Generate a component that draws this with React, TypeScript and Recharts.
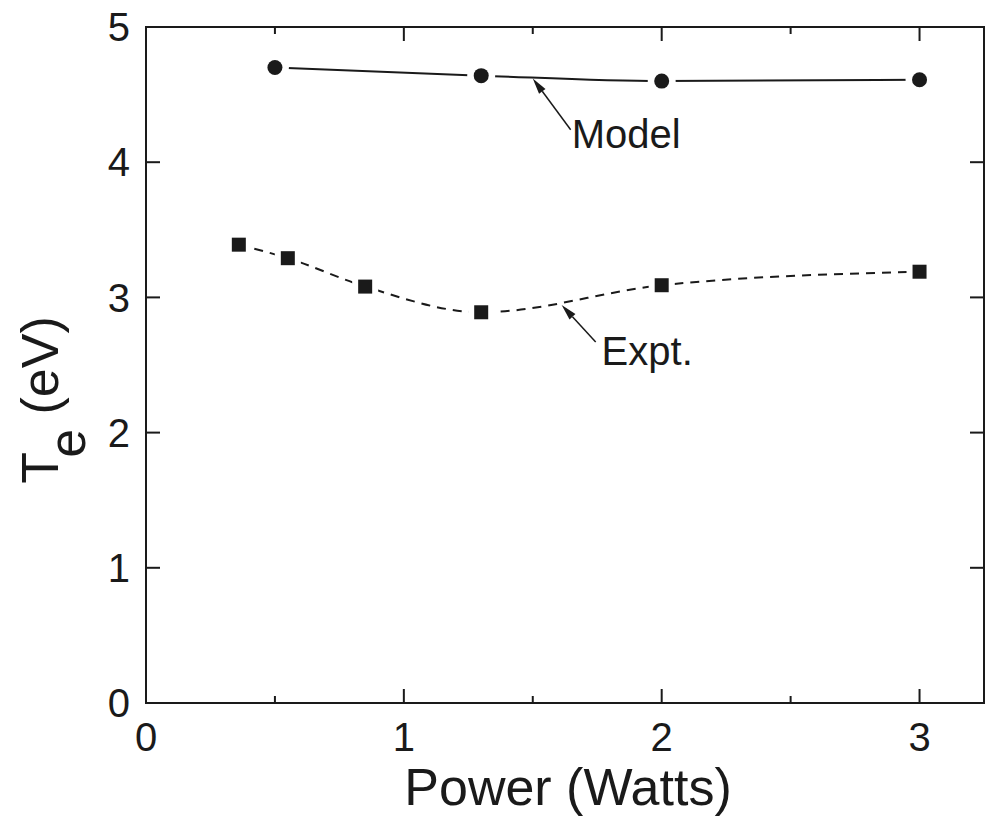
import { LineChart, Line, XAxis, YAxis, ReferenceLine, ReferenceArea, ReferenceDot, Label } from 'recharts';

const FONT = '"Liberation Sans", Arial, Helvetica, sans-serif';
const INK = '#1a1a1a';

// Model (circles, solid line)
const modelPower = [0.5, 1.3, 2.0, 3.0];
const modelTe = [4.7, 4.64, 4.6, 4.61];

// Experiment (squares, dashed line)
const exptPower = [0.36, 0.55, 0.85, 1.3, 2.0, 3.0];
const exptTe = [3.39, 3.29, 3.08, 2.89, 3.09, 3.19];

const xTicks = [0, 1, 2, 3];
const xMinorTicks = [0.5, 1.5, 2.5];
const yTicks = [0, 1, 2, 3, 4, 5];

// annotations: label text, arrow tip, arrow tail, text anchor (power, Te)
const noteLabels = ['Model', 'Expt.'];
const noteTip = [[1.5, 4.62], [1.612, 2.944]];
const noteTail = [[1.647, 4.24], [1.744, 2.67]];
const noteText = [[1.651, 4.105], [1.767, 2.5]];

const modelData = modelPower.map((p, i) => ({ p, te: modelTe[i] }));
const exptData = exptPower.map((p, i) => ({ p, te: exptTe[i] }));

const CircleDot = (props: any) => {
  const { cx, cy, index } = props;
  return (
    <g key={`c-${index}`}>
      <circle cx={cx} cy={cy} r={14} fill="#fff" />
      <circle cx={cx} cy={cy} r={7.5} fill={INK} />
    </g>
  );
};

const SquareDot = (props: any) => {
  const { cx, cy, index } = props;
  return (
    <g key={`s-${index}`}>
      <rect x={cx - 13} y={cy - 13} width={26} height={26} fill="#fff" />
      <rect x={cx - 7} y={cy - 7} width={14} height={14} fill={INK} />
    </g>
  );
};

// inward tick marks drawn at both ends of a reference line
const edgeTicks = (len: number) => (props: any) => {
  const { x1, y1, x2, y2 } = props;
  if (Math.abs(x1 - x2) < 0.5) {
    const top = Math.min(y1, y2);
    const bot = Math.max(y1, y2);
    return (
      <g>
        <line x1={x1} x2={x1} y1={top} y2={top + len} stroke={INK} strokeWidth={2} />
        <line x1={x1} x2={x1} y1={bot - len} y2={bot} stroke={INK} strokeWidth={2} />
      </g>
    );
  }
  const left = Math.min(x1, x2);
  const right = Math.max(x1, x2);
  return (
    <g>
      <line x1={left} x2={left + len} y1={y1} y2={y1} stroke={INK} strokeWidth={2} />
      <line x1={right - len} x2={right} y1={y1} y2={y1} stroke={INK} strokeWidth={2} />
    </g>
  );
};

const Arrow = (props: any) => {
  const { x1, y1, x2, y2 } = props; // tail -> tip
  const ang = Math.atan2(y2 - y1, x2 - x1);
  const len = 16;
  const half = 4;
  const bx = x2 - len * Math.cos(ang);
  const by = y2 - len * Math.sin(ang);
  const px = -Math.sin(ang) * half;
  const py = Math.cos(ang) * half;
  return (
    <g>
      <line x1={x1} y1={y1} x2={bx} y2={by} stroke={INK} strokeWidth={1.5} />
      <polygon points={`${x2},${y2} ${bx + px},${by + py} ${bx - px},${by - py}`} fill={INK} />
    </g>
  );
};

const noteText_ = (text: string) => (props: any) => (
  <text x={props.cx} y={props.cy} fontSize={40} fontFamily={FONT} fill={INK}>
    {text}
  </text>
);

const XTitle = ({ viewBox }: any) => (
  <text
    x={viewBox.x + viewBox.width / 2 + 3}
    y={viewBox.y + 102}
    textAnchor="middle"
    fontSize={52}
    fontFamily={FONT}
    fill={INK}
  >
    Power (Watts)
  </text>
);

const YTitle = ({ viewBox }: any) => {
  const cx = 58;
  const cy = viewBox.y + viewBox.height / 2 + 35;
  return (
    <text
      x={cx}
      y={cy}
      transform={`rotate(-90, ${cx}, ${cy})`}
      textAnchor="middle"
      fontSize={52}
      fontFamily={FONT}
      fill={INK}
    >
      T<tspan dy={27}>e</tspan>
      <tspan dy={-27}> (eV)</tspan>
    </text>
  );
};

const tickStyle = { fontSize: 40, fontFamily: FONT, fill: INK };

export default function App() {
  return (
    <div style={{ position: 'absolute', left: 0, top: 0, background: '#fff' }}>
      <LineChart width={989} height={817} margin={{ top: 27, right: 5, bottom: 0, left: 0 }}>
        <XAxis
          dataKey="p"
          type="number"
          domain={[0, 3.25]}
          ticks={xTicks}
          interval={0}
          allowDataOverflow
          height={114}
          tickLine={false}
          tickSize={0}
          tickMargin={20}
          axisLine={{ stroke: INK, strokeWidth: 2 }}
          tick={tickStyle}
        >
          <Label content={<XTitle />} />
        </XAxis>
        <YAxis
          type="number"
          domain={[0, 5]}
          ticks={yTicks}
          interval={0}
          allowDataOverflow
          width={146}
          tickLine={false}
          tickSize={0}
          tickMargin={16}
          axisLine={{ stroke: INK, strokeWidth: 2 }}
          tick={tickStyle}
        >
          <Label content={<YTitle />} />
        </YAxis>

        <ReferenceArea x1={0} x2={3.25} y1={0} y2={5} fill="none" stroke={INK} strokeWidth={2} fillOpacity={0} />

        {xTicks.map((t) => (
          <ReferenceLine key={`xt${t}`} x={t} shape={edgeTicks(14)} />
        ))}
        {xMinorTicks.map((t) => (
          <ReferenceLine key={`xm${t}`} x={t} shape={edgeTicks(7)} />
        ))}
        {yTicks.map((t) => (
          <ReferenceLine key={`yt${t}`} y={t} shape={edgeTicks(14)} />
        ))}

        <Line
          data={exptData}
          dataKey="te"
          type="monotone"
          stroke={INK}
          strokeWidth={2}
          strokeDasharray="9 7"
          dot={SquareDot}
          activeDot={false}
          isAnimationActive={false}
        />
        <Line
          data={modelData}
          dataKey="te"
          type="monotone"
          stroke={INK}
          strokeWidth={2}
          dot={CircleDot}
          activeDot={false}
          isAnimationActive={false}
        />

        {noteLabels.map((label, i) => (
          <ReferenceLine
            key={`arrow-${label}`}
            segment={[
              { x: noteTail[i][0], y: noteTail[i][1] },
              { x: noteTip[i][0], y: noteTip[i][1] },
            ]}
            shape={Arrow}
          />
        ))}
        {noteLabels.map((label, i) => (
          <ReferenceDot
            key={`note-${label}`}
            x={noteText[i][0]}
            y={noteText[i][1]}
            r={0}
            shape={noteText_(label)}
          />
        ))}
      </LineChart>
    </div>
  );
}
